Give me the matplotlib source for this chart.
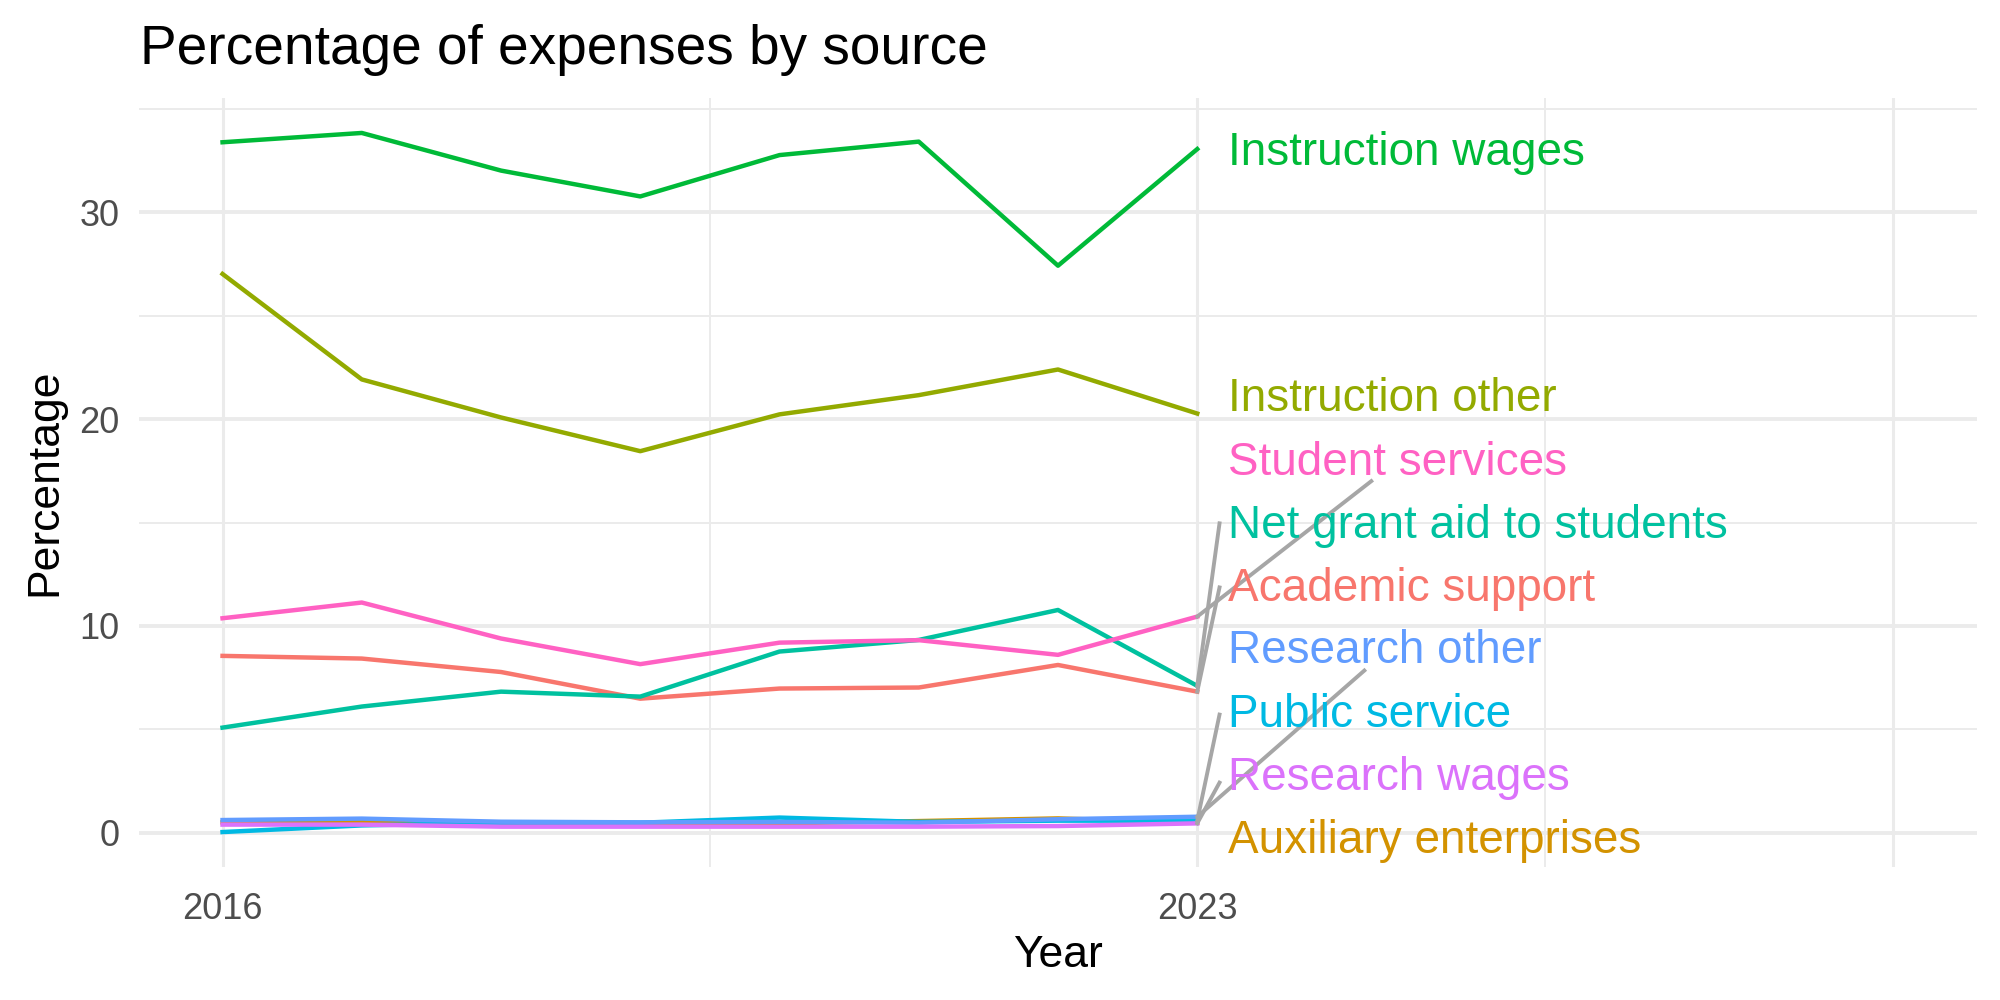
# line chart of expense shares by source, with repelled labels at the right end
import matplotlib
matplotlib.use('Agg')
import matplotlib.pyplot as plt
import numpy as np

plt.rcParams['font.family'] = ['Liberation Sans', 'DejaVu Sans']

# data
years = [2016, 2017, 2018, 2019, 2020, 2021, 2022, 2023]

academic_support = [8.55, 8.42, 7.77, 6.48, 6.97, 7.02, 8.11, 6.82]
auxiliary_enterprises = [0.50, 0.55, 0.45, 0.42, 0.45, 0.56, 0.69, 0.48]
instruction_other = [27.02, 21.92, 20.08, 18.45, 20.23, 21.16, 22.40, 20.27]
instruction_wages = [33.39, 33.84, 32.02, 30.77, 32.77, 33.42, 27.42, 33.06]
net_grant_aid = [5.08, 6.10, 6.82, 6.58, 8.76, 9.32, 10.77, 7.10]
public_service = [0.03, 0.35, 0.48, 0.48, 0.73, 0.52, 0.58, 0.58]
research_other = [0.61, 0.68, 0.53, 0.50, 0.52, 0.48, 0.65, 0.77]
research_wages = [0.39, 0.39, 0.29, 0.29, 0.29, 0.29, 0.32, 0.45]
student_services = [10.37, 11.13, 9.39, 8.15, 9.19, 9.31, 8.60, 10.45]

sources = ['Academic support', 'Auxiliary enterprises', 'Instruction other',
           'Instruction wages', 'Net grant aid to students', 'Public service',
           'Research other', 'Research wages', 'Student services']
series = [academic_support, auxiliary_enterprises, instruction_other,
          instruction_wages, net_grant_aid, public_service,
          research_other, research_wages, student_services]
colors = ['#F8766D', '#D39200', '#93AA00', '#00BA38', '#00C19F',
          '#00B9E3', '#619CFF', '#DB72FB', '#FF61C3']

# where the repelled labels ended up (data units)
label_x = 2023.22
label_y = [12.0, -0.19, 21.2, 33.1, 15.05, 5.9, 9.0, 2.86, 18.1]
# end of the leader segment, None = no segment
seg_end = [(2023.16, 11.86), None, None, None, (2023.16, 14.96),
           (2023.16, 5.71), (2024.20, 7.84), (2023.16, 2.42), (2024.25, 17.0)]

fig = plt.figure(figsize=(10, 5), dpi=200)
ax = fig.add_axes([0.0695, 0.133, 0.919, 0.769])

grid_col = '#EBEBEB'
for y in [0, 10, 20, 30]:
    ax.axhline(y, color=grid_col, lw=1.4, zorder=0)
for y in [5, 15, 25, 35]:
    ax.axhline(y, color=grid_col, lw=0.7, zorder=0)
for x in [2016, 2023, 2028]:
    ax.axvline(x, color=grid_col, lw=1.1, zorder=0)
for x in [2019.5, 2025.5]:
    ax.axvline(x, color=grid_col, lw=0.7, zorder=0)

for name, vals, col in zip(sources, series, colors):
    ax.plot(years, vals, color=col, lw=1.6, zorder=2)

# leader segments then labels
for vals, end in zip(series, seg_end):
    if end is None:
        continue
    ax.plot([years[-1], end[0]], [vals[-1], end[1]], color='#A6A6A6', lw=1.4, zorder=3)

for name, ly, col in zip(sources, label_y, colors):
    ax.annotate(name, (label_x, ly), xytext=(0, -5.9), textcoords='offset points',
                color=col, fontsize=16.5, ha='left', va='baseline', zorder=4)

all_vals = np.concatenate(series)
lo, hi = all_vals.min(), all_vals.max()
pad = (hi - lo) * 0.05
ax.set_ylim(lo - pad, hi + pad)
ax.set_xlim(2016 - 0.6, 2028 + 0.6)

ax.set_xticks([2016, 2023])
ax.set_xticklabels(['2016', '2023'])
ax.set_yticks([0, 10, 20, 30])
ax.tick_params(length=0, labelsize=13, labelcolor='#4D4D4D')
ax.tick_params(axis='x', pad=9)
ax.tick_params(axis='y', pad=7)
for s in ax.spines.values():
    s.set_visible(False)

ax.set_xlabel('Year', fontsize=16, labelpad=3)
ax.set_ylabel('Percentage', fontsize=16, labelpad=5)
fig.text(0.07, 0.936, 'Percentage of expenses by source', fontsize=19.8, ha='left', va='baseline')

fig.savefig('out.png', dpi=200)
